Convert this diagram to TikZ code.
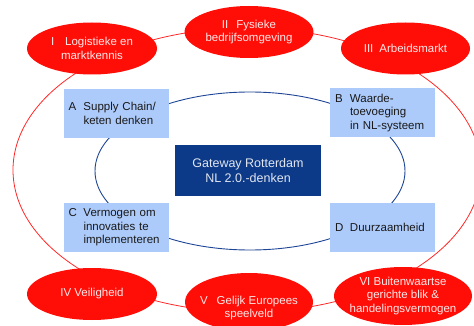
\documentclass[tikz,border=0pt]{standalone}
\usepackage{fontspec}
\setmainfont{Liberation Sans}
\usetikzlibrary{shapes.geometric}
\definecolor{ringred}{RGB}{255,40,40}
\definecolor{nodered}{RGB}{255,14,8}
\definecolor{redtext}{RGB}{255,232,232}
\definecolor{lightblue}{RGB}{173,203,250}
\definecolor{navy}{RGB}{12,58,136}
\definecolor{ringblue}{RGB}{30,70,150}
\definecolor{centertext}{RGB}{225,230,240}
\tikzset{
  redell/.style={ellipse, fill=nodered, draw=none, inner sep=0pt},
  redtxt/.style={align=center, text=redtext, inner sep=0pt, font=\fontsize{11.5}{13.8}\selectfont},
  bluebox/.style={rectangle, fill=lightblue, draw=none, text width=95pt, inner xsep=5pt, inner ysep=0pt,
    minimum height=49pt, align=left, text=black!90, font=\fontsize{11.5}{13.6}\selectfont},
  centerbox/.style={rectangle, fill=navy, draw=none, minimum width=146pt, minimum height=51pt,
    align=center, text=centertext, font=\fontsize{12.5}{15}\selectfont},
  bigring/.style={draw=ringred, line width=0.8pt},
  innerring/.style={draw=ringblue, line width=0.9pt}
}
\newcommand{\lbl}[1]{\makebox[15pt][l]{#1}}
\begin{document}
\begin{tikzpicture}[x=1pt,y=-1pt]
\useasboundingbox (0,0) rectangle (474,326);
% rings
\draw[bigring] (247,170) ellipse [x radius=234pt, y radius=142pt];
\draw[innerring] (250,171) ellipse [x radius=155pt, y radius=79pt];
% red ellipses
\node[redell, minimum width=130pt, minimum height=52pt] (e1) at (92,48.5) {};
\node[redtxt] (t1) at (e1.center) {I\hspace{11pt}Logistieke en\\marktkennis};
\node[redell, minimum width=129pt, minimum height=52pt] (e2) at (249,32) {};
\node[redtxt] (t2) at (e2.center) {II\hspace{8pt}Fysieke\\bedrijfsomgeving};
\node[redell, minimum width=129pt, minimum height=52pt] (e3) at (405.5,48.5) {};
\node[redtxt] (t3) at (e3.center) {III\hspace{6pt}Arbeidsmarkt};
\node[redell, minimum width=130pt, minimum height=52pt] (e4) at (92,294) {};
\node[redtxt] (t4) at (e4.center) {IV Veiligheid};
\node[redell, minimum width=128pt, minimum height=58pt] (e5) at (249,302) {};
\node[redtxt] (t5) at (249,308) {V\hspace{9pt}Gelijk Europees\\speelveld};
\node[redell, minimum width=138pt, minimum height=58pt] (e6) at (403,296) {};
\node[redtxt] (t6) at (e6.center) {VI Buitenwaartse\\gerichte blik \&\\handelingsvermogen};
% blue boxes
\node[bluebox] (a) at (116,113.5) {\lbl{A}Supply Chain/\\\hspace*{15pt}keten denken};
\node[bluebox] (b) at (382.5,113) {\lbl{B}Waarde-\\\hspace*{15pt}toevoeging\\\hspace*{15pt}in NL-systeem};
\node[bluebox] (c) at (116,227.5) {\lbl{C}Vermogen om\\\hspace*{15pt}innovaties te\\\hspace*{15pt}implementeren};
\node[bluebox] (d) at (382.5,227.5) {\lbl{D}Duurzaamheid};
% center
\node[centerbox] (g) at (248,170.5) {Gateway Rotterdam\\NL 2.0.-denken};
\end{tikzpicture}
\end{document}
